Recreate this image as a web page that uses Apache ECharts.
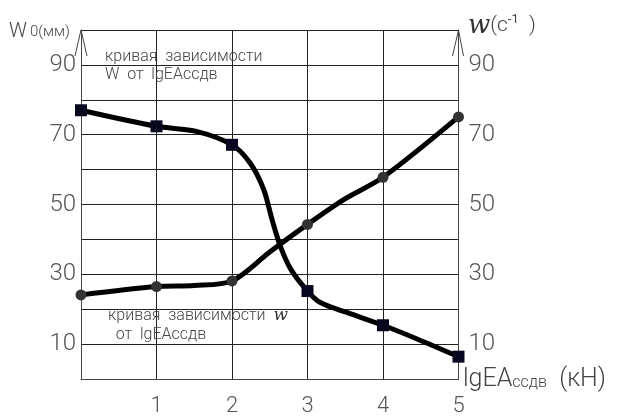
<!DOCTYPE html>
<html><head><meta charset="utf-8">
<script src="https://cdn.jsdelivr.net/npm/echarts@6/dist/echarts.min.js"></script>
<style>html,body{margin:0;padding:0;background:#fff}#c{width:626px;height:417px}</style>
</head><body><div id="c"></div>
<script>
// Marker points (x = lgEAссдв, kN)
const xMarks = [0, 1, 2, 3, 4, 5];
const wMarks = [77, 72.4, 67.1, 25.2, 15.4, 6.4];       // W0 (мм), squares
const omegaMarks = [24.1, 26.5, 28.1, 44.3, 57.8, 75.1]; // w (c^-1), circles
// Curves (including bends between markers)
const wCurveX = [0, 1, 1.54, 2, 2.24, 2.42, 2.53, 2.64, 2.78, 3, 3.17, 3.53, 4, 4.46, 5];
const wCurveY = [77, 72.4, 70.9, 67.1, 61.9, 54.3, 45.7, 38.1, 31.4, 25.2, 21.9, 19.0, 15.4, 11.4, 6.4];
const omegaCurveX = [0, 1, 1.5, 2, 2.5, 3, 3.48, 4, 5];
const omegaCurveY = [24.1, 26.5, 26.8, 28.1, 36.4, 44.3, 51.4, 57.8, 75.1];
const xTicks = ['', '1', '2', '3', '4', '5'];
const yTickShown = [10, 30, 50, 70, 90];

const FONT = 'Roboto';
const chart = echarts.init(document.getElementById('c'));
const pair = (xs, ys) => xs.map((x, i) => [x, ys[i]]);
const yLabel = v => yTickShown.includes(v) ? String(v) : '';

chart.setOption({
  animation: false,
  backgroundColor: '#fff',
  grid: { left: 81, top: 30, width: 377.5, height: 350 },
  xAxis: {
    type: 'value', min: 0, max: 5, interval: 1,
    axisLine: { lineStyle: { color: '#444', width: 1 } },
    axisTick: { show: false },
    axisLabel: { formatter: v => xTicks[v] || '', color: '#555', fontSize: 22, fontFamily: FONT, fontWeight: 300, margin: 16 },
    splitLine: { show: true, lineStyle: { color: '#222', width: 1 } }
  },
  yAxis: [{
    type: 'value', min: 0, max: 100, interval: 10,
    axisLine: { show: true, lineStyle: { color: '#444', width: 1 } },
    axisTick: { show: false },
    axisLabel: { formatter: yLabel, color: '#555', fontSize: 24, fontFamily: FONT, fontWeight: 300, margin: 5 },
    splitLine: { show: true, lineStyle: { color: '#222', width: 1 } }
  }, {
    type: 'value', min: 0, max: 100, interval: 10, position: 'right',
    axisLine: { show: true, lineStyle: { color: '#444', width: 1 } },
    axisTick: { show: false },
    axisLabel: { formatter: yLabel, color: '#555', fontSize: 24, fontFamily: FONT, fontWeight: 300, margin: 10 },
    splitLine: { show: false }
  }],
  series: [
    { type: 'line', data: pair(wCurveX, wCurveY), smooth: 0.3, showSymbol: false,
      lineStyle: { color: '#000', width: 5 }, z: 3 },
    { type: 'line', yAxisIndex: 1, data: pair(omegaCurveX, omegaCurveY), smooth: 0.3, showSymbol: false,
      lineStyle: { color: '#000', width: 5 }, z: 3 },
    { type: 'scatter', data: pair(xMarks, wMarks), symbol: 'rect', symbolSize: 12,
      itemStyle: { color: '#07071e', opacity: 1 }, z: 5 },
    { type: 'scatter', yAxisIndex: 1, data: pair(xMarks, omegaMarks), symbol: 'circle', symbolSize: 11,
      itemStyle: { color: '#333', opacity: 1 }, z: 5 }
  ]
});

const tl = chart.convertToPixel({ gridIndex: 0 }, [0, 100]);
const tr = chart.convertToPixel({ gridIndex: 0 }, [5, 100]);
const txt = { fill: '#444', fontFamily: FONT, fontWeight: 300 };
chart.setOption({
  graphic: [
    { type: 'polyline', shape: { points: [[tl[0] - 6, tl[1] + 26], [tl[0], tl[1]], [tl[0] + 6, tl[1] + 26]] }, style: { stroke: '#444', lineWidth: 1, fill: null } },
    { type: 'polyline', shape: { points: [[tr[0] - 6, tr[1] + 26], [tr[0], tr[1]], [tr[0] + 5, tr[1] + 26]] }, style: { stroke: '#444', lineWidth: 1, fill: null } },
    { type: 'text', left: 9, top: 22, style: Object.assign({}, txt, { text: '{a|W}{b|0(мм)}',
      rich: { a: { fontSize: 20, fontFamily: FONT, fontWeight: 300, fill: '#444', padding: [0, 3, 0, 0] }, b: { fontSize: 15, fontFamily: FONT, fontWeight: 300, fill: '#444' } } }) },
    { type: 'text', left: 468, top: 13, style: Object.assign({}, txt, { text: '{w|w}{b|(c}{s|-1}{b|  )}',
      rich: { b: { fontSize: 21, fontFamily: FONT, fontWeight: 300, fill: '#444' }, s: { fontSize: 13, fontFamily: FONT, fill: '#444', verticalAlign: 'top', padding: [0, 0, 10, 0] }, w: { fontFamily: 'DejaVu Serif', fontStyle: 'italic', fontSize: 26, fill: '#333' } } }) },
    { type: 'text', left: 463, top: 367, style: Object.assign({}, txt, { text: '{a|lgEA}{b|ссдв}{a|  (кН)}',
      rich: { a: { fontSize: 25, fontFamily: FONT, fontWeight: 300, fill: '#444' }, b: { fontSize: 16, fontFamily: FONT, fontWeight: 300, fill: '#444', padding: [7, 0, 0, 0] } } }) },
    { type: 'text', left: 105, top: 48, style: Object.assign({}, txt, { text: 'кривая  зависимости\nW  от  lgEAссдв', fontSize: 16, lineHeight: 18 }) },
    { type: 'text', left: 108, top: 306, style: Object.assign({}, txt, { text: 'кривая  зависимости  {w|w}\n  от  lgEAссдв', fontSize: 16, lineHeight: 19, rich: { w: { fontFamily: 'DejaVu Serif', fontStyle: 'italic', fontSize: 17, fill: '#333' } } }) }
  ]
});
</script></body></html>
